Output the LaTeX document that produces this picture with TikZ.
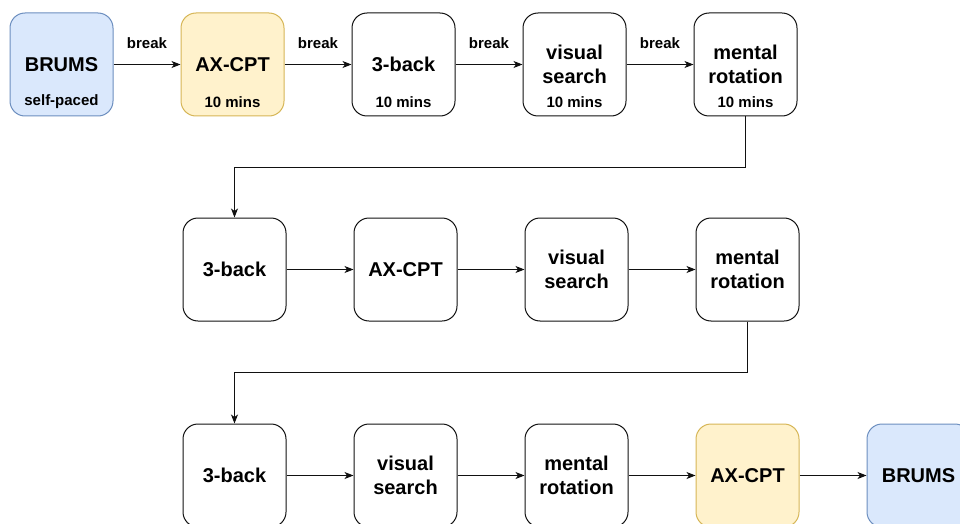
\documentclass[tikz,border=0pt]{standalone}
\usepackage{fontspec}
\setmainfont{Liberation Sans}
\usetikzlibrary{arrows.meta}
\definecolor{bluefill}{HTML}{DAE8FC}
\definecolor{bluedraw}{HTML}{6C8EBF}
\definecolor{yelfill}{HTML}{FFF2CC}
\definecolor{yeldraw}{HTML}{D6B656}
\definecolor{linec}{HTML}{111111}
\tikzset{
  box/.style={draw=linec, line width=1pt, rectangle, rounded corners=15pt,
    minimum width=103pt, minimum height=103pt, align=center, inner sep=0pt,
    font=\bfseries\fontsize{20}{24}\selectfont},
  bluebox/.style={box, draw=bluedraw, fill=bluefill},
  yelbox/.style={box, draw=yeldraw, fill=yelfill},
  sublbl/.style={font=\bfseries\fontsize{15}{18}\selectfont, inner sep=0pt, anchor=center},
  brklbl/.style={font=\bfseries\fontsize{15}{18}\selectfont, inner sep=0pt, anchor=center},
  arr/.style={draw=linec, line width=1pt, -{Stealth[length=9pt,width=7pt,inset=2.5pt]}}
}
\begin{document}
\begin{tikzpicture}[x=1pt,y=-1pt]
\useasboundingbox (0,0) rectangle (960,524);
\clip (0,0) rectangle (960,524);
% row 1
\node[bluebox] (r1) at (61.5,64.5) {BRUMS};
\node[yelbox]  (a1) at (232.5,64.5) {AX-CPT};
\node[box]     (b1) at (403.5,64.5) {3-back};
\node[box]     (v1) at (574.5,64.5) {visual\\search};
\node[box]     (m1) at (745.5,64.5) {mental\\rotation};
\node[sublbl] (s1) at (61.5,102) {self-paced};
\node[sublbl] (s2) at (232.5,102) {10 mins};
\node[sublbl] (s3) at (403.5,102) {10 mins};
\node[sublbl] (s4) at (574.5,102) {10 mins};
\node[sublbl] (s5) at (745.5,102) {10 mins};
\draw[arr] (r1) -- (a1);
\draw[arr] (a1) -- (b1);
\draw[arr] (b1) -- (v1);
\draw[arr] (v1) -- (m1);
\node[brklbl] (k1) at (147,43) {break};
\node[brklbl] (k2) at (318,43) {break};
\node[brklbl] (k3) at (489,43) {break};
\node[brklbl] (k4) at (660,43) {break};
% row 2
\node[box] (b2) at (234.5,269.5) {3-back};
\node[box] (a2) at (405.5,269.5) {AX-CPT};
\node[box] (v2) at (576.5,269.5) {visual\\search};
\node[box] (m2) at (747.5,269.5) {mental\\rotation};
\coordinate (j1) at (745.5,167);
\draw[arr] (m1.south) -- (j1) -| (b2.north);
\draw[arr] (b2) -- (a2);
\draw[arr] (a2) -- (v2);
\draw[arr] (v2) -- (m2);
% row 3
\node[box]    (b3) at (234.5,475.5) {3-back};
\node[box]    (v3) at (405.5,475.5) {visual\\search};
\node[box]    (m3) at (576.5,475.5) {mental\\rotation};
\node[yelbox] (a3) at (747.5,475.5) {AX-CPT};
\node[bluebox] (r3) at (918.5,475.5) {BRUMS};
\coordinate (j2) at (747.5,372.5);
\draw[arr] (m2.south) -- (j2) -| (b3.north);
\draw[arr] (b3) -- (v3);
\draw[arr] (v3) -- (m3);
\draw[arr] (m3) -- (a3);
\draw[arr] (a3) -- (r3);
\end{tikzpicture}
\end{document}
